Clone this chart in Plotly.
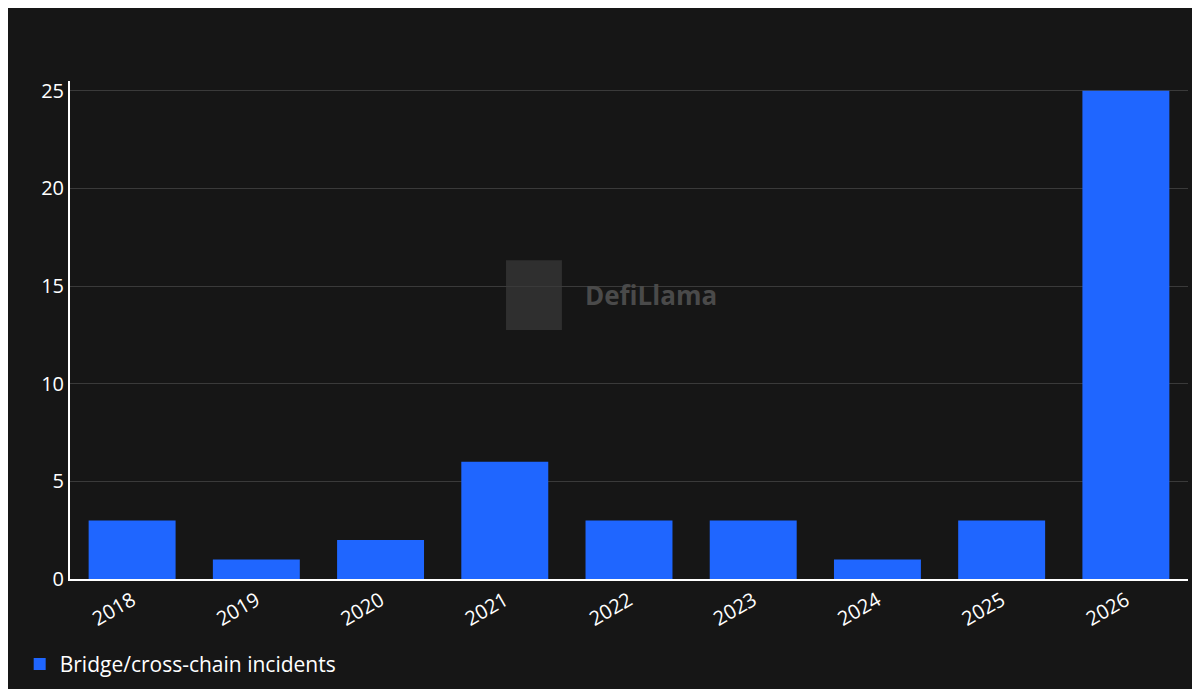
import plotly.graph_objects as go

years = ["2018", "2019", "2020", "2021", "2022", "2023", "2024", "2025", "2026"]
incidents = [3, 1, 2, 6, 3, 3, 1, 3, 25]

fig = go.Figure()
fig.add_trace(go.Bar(x=years, y=incidents, name="Bridge/cross-chain incidents",
                     marker_color="#1f66ff", marker_line_width=0))

fig.update_layout(
    width=1200, height=689,
    paper_bgcolor="#161616", plot_bgcolor="#161616",
    font=dict(family="Open Sans, Noto Sans, sans-serif", color="#ffffff", size=20),
    margin=dict(l=54, r=20, t=73, b=106),
    bargap=0.3,
    showlegend=True,
    legend=dict(orientation="h", x=-0.045, xanchor="left", y=-0.13, yanchor="top",
                font=dict(size=21), itemsizing="constant"),
    xaxis=dict(showline=True, linecolor="#ffffff", linewidth=2, tickangle=-30,
               ticks="", showgrid=False),
    yaxis=dict(showline=True, linecolor="#ffffff", linewidth=2, range=[0, 25.5],
               tickvals=[0, 5, 10, 15, 20, 25], gridcolor="#3a3a3a",
               ticks="", zeroline=False),
)

fig.add_annotation(text="<b>DefiLlama</b>", xref="paper", yref="paper", x=0.52, y=0.57,
                   showarrow=False, font=dict(size=26, color="#4a4a4a"))
fig.add_shape(type="rect", xref="paper", yref="paper", x0=0.39, x1=0.44, y0=0.5, y1=0.64,
              fillcolor="#3a3a3a", line_width=0, layer="below", opacity=0.7)

fig.write_html("out.html")
